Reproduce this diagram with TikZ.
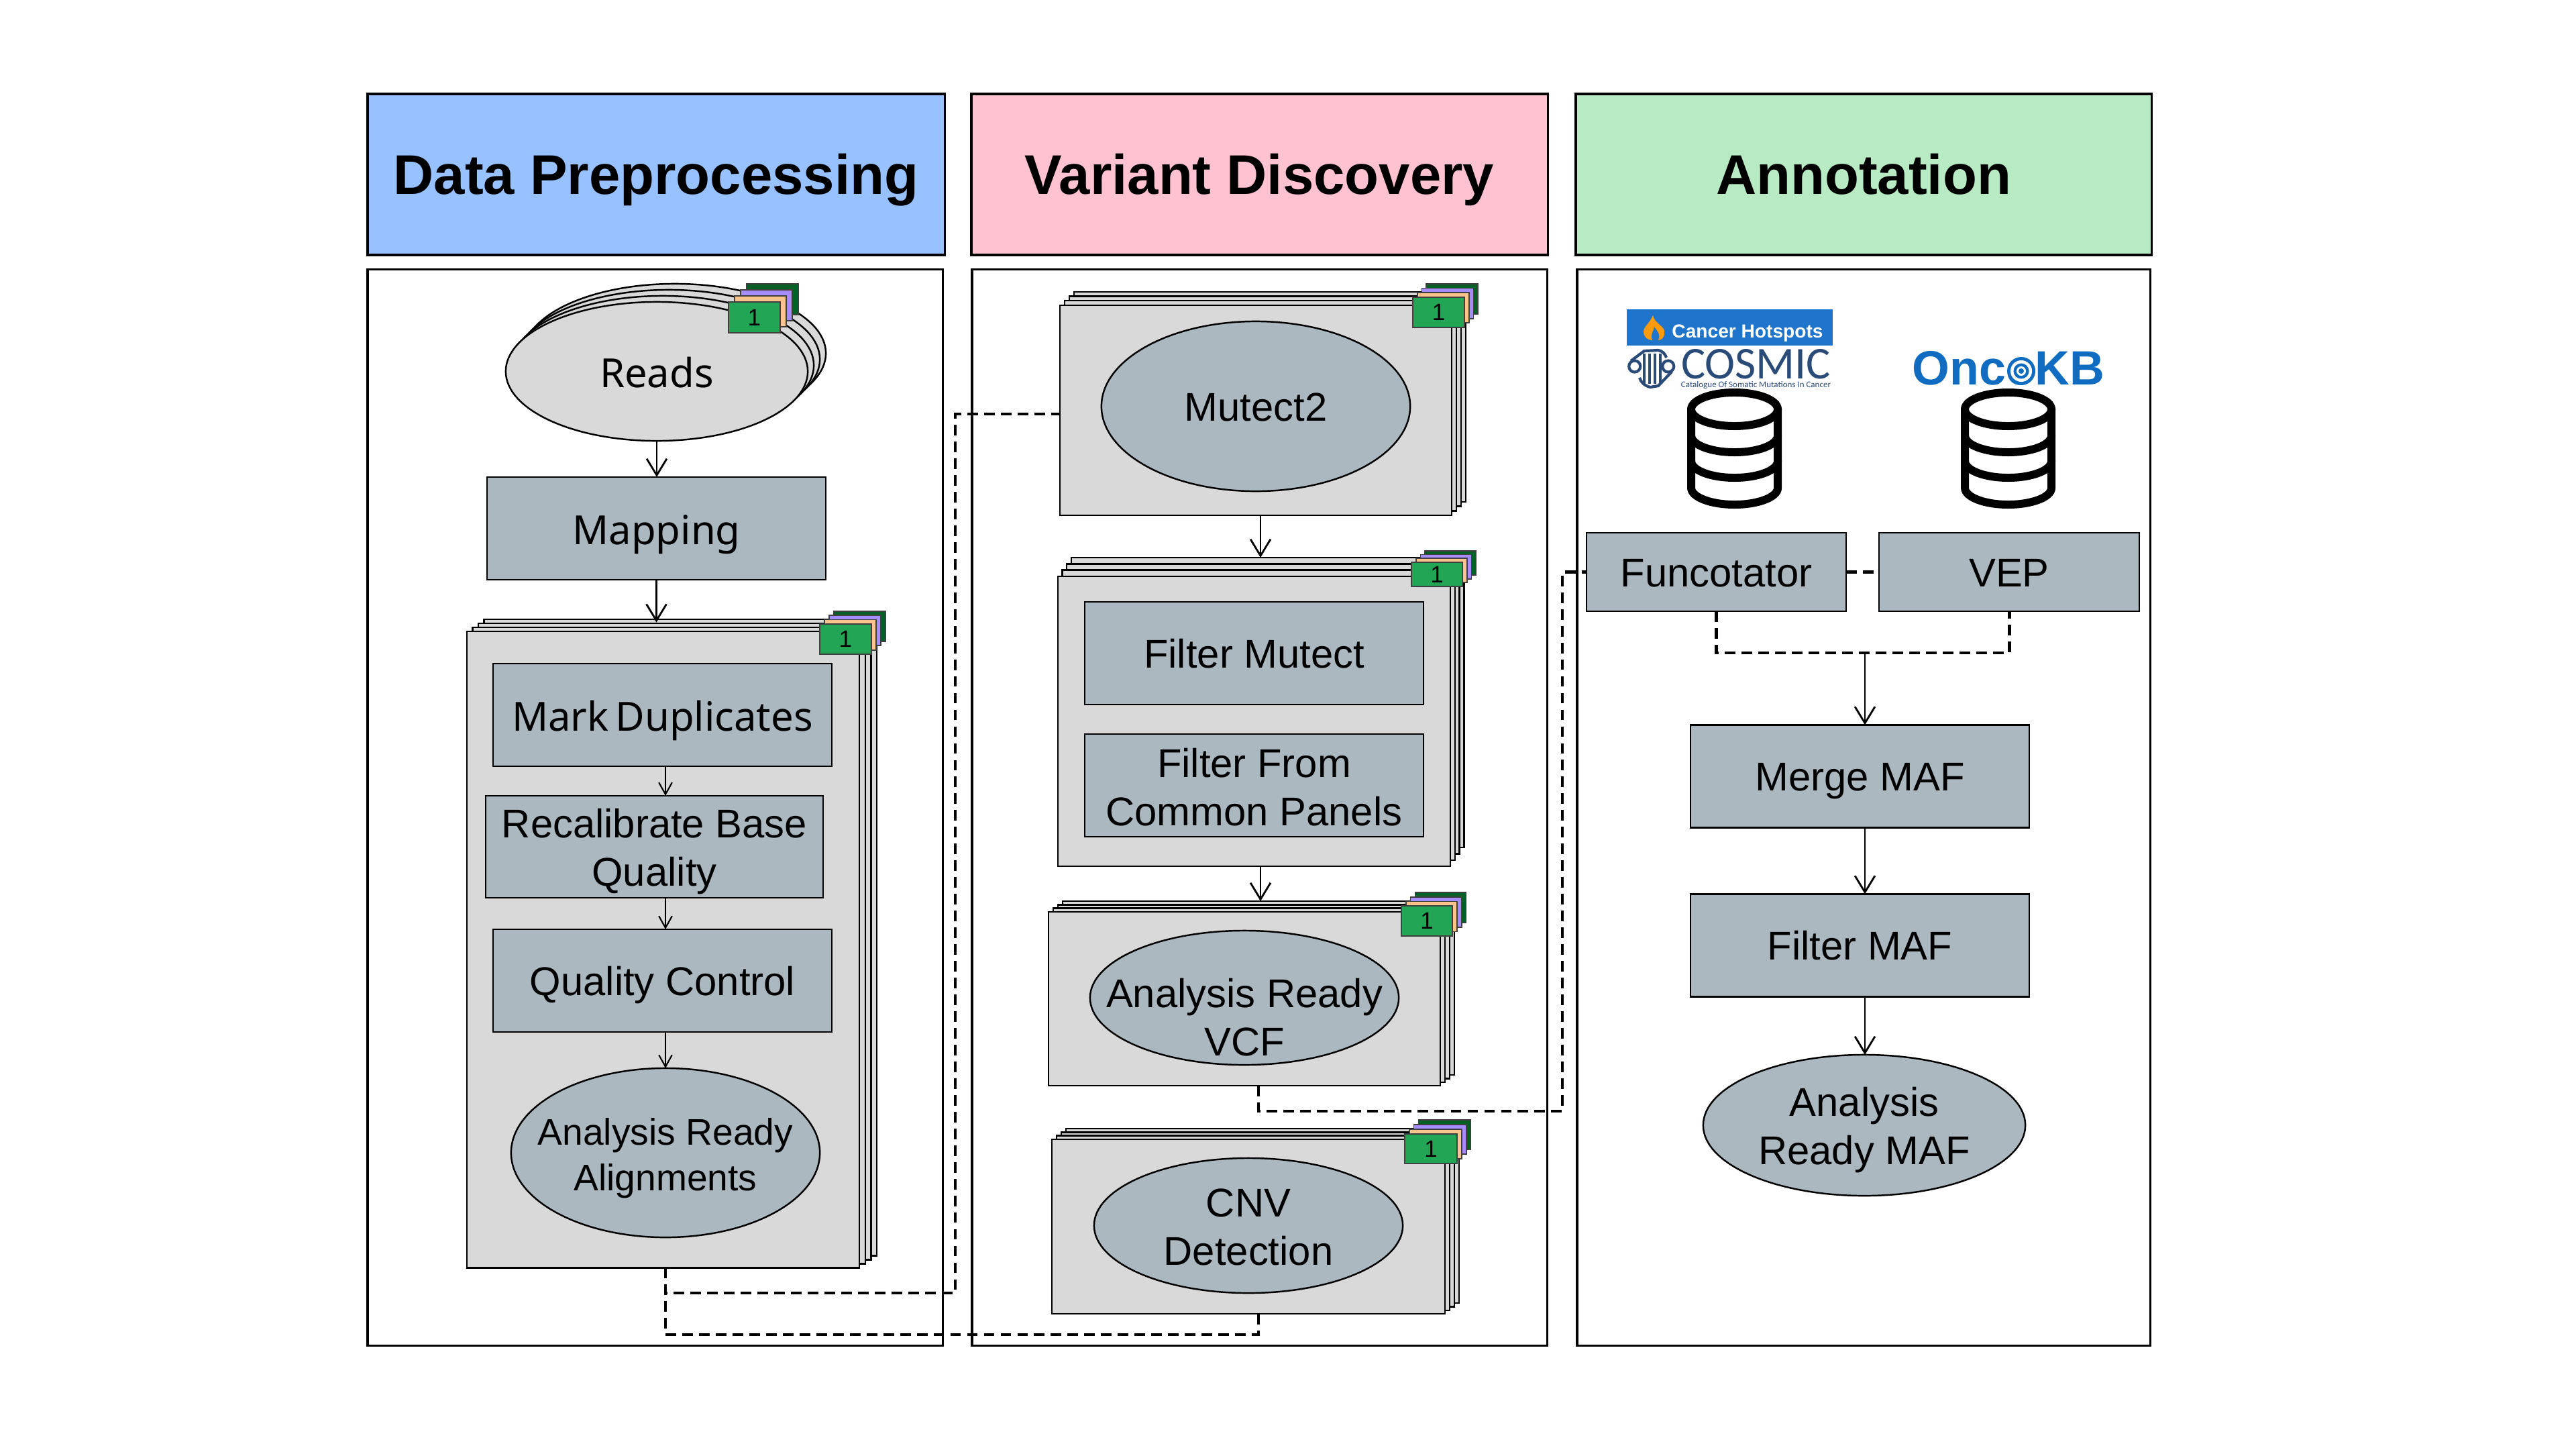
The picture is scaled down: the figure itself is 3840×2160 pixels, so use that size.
\documentclass[tikz,border=0pt]{standalone}
\usepackage{fontspec}
\setmainfont{Liberation Sans}
\newfontfamily\notofont{Noto Sans}
\newfontfamily\logofont{Carlito}
\usetikzlibrary{arrows.meta,shapes.geometric}

\definecolor{headblue}{HTML}{97C1FF}
\definecolor{headpink}{HTML}{FFC2D1}
\definecolor{headgreen}{HTML}{B8EBC4}
\definecolor{procgrey}{HTML}{ABB8C0}
\definecolor{stackgrey}{HTML}{D9D9D9}
\definecolor{badgegreen}{HTML}{22A655}
\definecolor{badgeorange}{HTML}{FFC48C}
\definecolor{badgepurple}{HTML}{A58CFF}
\definecolor{badgedark}{HTML}{006026}
\definecolor{hotblue}{HTML}{1F74CC}
\definecolor{flameorange}{HTML}{FF9A0A}
\definecolor{cosmicnavy}{HTML}{2A4A78}
\definecolor{oncoblue}{HTML}{0F6CC0}

\tikzset{
  headbox/.style={draw,line width=1pt,inner sep=0pt,outer sep=0pt,text height=18.5pt,text depth=2pt,
    font=\fontsize{23.7}{28}\selectfont\bfseries},
  panelbox/.style={draw,line width=1pt,inner sep=0pt,outer sep=0pt},
  procbox/.style={draw,line width=.7pt,fill=procgrey,inner sep=0pt,outer sep=0pt,
    font=\fontsize{17}{20.5}\selectfont},
  oneline/.style={text height=14.3pt,text depth=2pt},
  flowbox/.style={procbox,oneline,minimum width=5.05cm,minimum height=1.53cm},
  procoval/.style={procbox,ellipse},
  notolabel/.style={text height=15.4pt,text depth=2pt,font=\fontsize{17}{20}\selectfont\notofont},
  boxtext/.style={inner sep=0pt,align=center,font=\fontsize{17}{20.5}\selectfont},
  stackbox/.style={draw,line width=.7pt,fill=stackgrey,inner sep=0pt,outer sep=0pt},
  badgebox/.style={draw=black!75,line width=.5pt,inner sep=0pt,outer sep=0pt,font=\fontsize{10}{12}\selectfont},
  flowline/.style={line width=.8pt,-{Straight Barb[length=7pt,width=8.5pt]}},
  smallflow/.style={line width=.6pt,-{Straight Barb[length=5pt,width=5.6pt]}},
  dashline/.style={line width=1.4pt,dash pattern=on 4.5pt off 2.6pt},
  dbline/.style={line width=3.4pt,line cap=round},
}

% name, centre x, centre y, width, height, step x, step y
\newcommand{\framestack}[7]{
  \foreach \k in {3,2,1,0}
    \node (#1\k)[stackbox,minimum width=#4cm,minimum height=#5cm] at ({#2+\k*#6},{#3-\k*#7}) {};
}
% name, centre x, centre y, width, height, step x, step y
\newcommand{\badgestack}[7]{
  \foreach \k/\col in {3/badgedark,2/badgepurple,1/badgeorange}
    \node (#1\k)[badgebox,fill=\col,minimum width=#4cm,minimum height=#5cm] at ({#2+\k*#6},{#3-\k*#7}) {};
  \node (#10)[badgebox,fill=badgegreen,minimum width=#4cm,minimum height=#5cm] at (#2,#3) {1};
}

\begin{document}
\begin{tikzpicture}[x=.01cm,y=-.01cm]
  \useasboundingbox (0,0) rectangle (3840,2160);

  % headers
  \node (headdata)[headbox,fill=headblue,minimum width=8.6cm,minimum height=2.4cm] at (978,260) {Data Preprocessing};
  \node (headvar)[headbox,fill=headpink,minimum width=8.59cm,minimum height=2.4cm] at (1877.5,260) {Variant Discovery};
  \node (headann)[headbox,fill=headgreen,minimum width=8.58cm,minimum height=2.4cm] at (2778,260) {Annotation};

  % panels
  \node (paneldata)[panelbox,minimum width=8.57cm,minimum height=16.03cm] at (976.5,1203.5) {};
  \node (panelvar)[panelbox,minimum width=8.57cm,minimum height=16.03cm] at (1877.5,1203.5) {};
  \node (panelann)[panelbox,minimum width=8.54cm,minimum height=16.03cm] at (2778,1203.5) {};

  % data preprocessing
  \foreach \k in {3,2,1}
    \node (reads\k)[stackbox,ellipse,minimum width=4.5cm,minimum height=2.07cm] at ({979+\k*9},{553.5-\k*9}) {};
  \node (reads0)[stackbox,ellipse,notolabel,minimum width=4.5cm,minimum height=2.07cm] at (979,553.5) {Reads};
  \badgestack{readsbadge}{1124.5}{473}{.77}{.46}{9}{9}
  \node (mapping)[flowbox,notolabel] at (978.5,787.5) {Mapping};

  \framestack{dup}{988.5}{1415}{5.85}{9.48}{8.6}{6}
  \badgestack{dupbadge}{1260.5}{952.5}{.77}{.45}{7}{6.4}
  \node (markdup)[flowbox,notolabel] at (987.5,1065.5) {Mark\,Duplicates};
  \node (recal)[procbox,minimum width=5.03cm,minimum height=1.52cm] at (975.5,1262) {};
  \node (recaltext)[boxtext] at (975.5,1269) {Recalibrate Base\\Quality};
  \node (qualctl)[flowbox] at (987.5,1461.5) {Quality Control};
  \node (aralign)[procoval,minimum width=4.6cm,minimum height=2.52cm] at (992,1718) {};
  \node (araligntext)[boxtext,font=\fontsize{15.7}{19.5}\selectfont] at (992,1726) {Analysis Ready\\Alignments};

  % variant discovery
  \framestack{mut}{1872}{611.5}{5.84}{3.13}{7}{6.7}
  \badgestack{mutbadge}{2144.5}{465.5}{.77}{.45}{6.7}{6.7}
  \node (mutect)[procoval,oneline,minimum width=4.6cm,minimum height=2.53cm] at (1872,605.5) {Mutect2};

  \framestack{fil}{1869.5}{1075}{5.85}{4.32}{6.7}{9.3}
  \badgestack{filbadge}{2142}{856}{.76}{.36}{6.7}{5.7}
  \node (filtmut)[flowbox] at (1869.5,973.5) {Filter Mutect};
  \node (filtcom)[procbox,minimum width=5.05cm,minimum height=1.53cm] at (1869.5,1170.5) {};
  \node (filtcomtext)[boxtext] at (1869.5,1173) {Filter From\\Common Panels};

  \framestack{vcf}{1855}{1488.5}{5.84}{2.59}{7}{5.3}
  \badgestack{vcfbadge}{2127}{1372.5}{.76}{.45}{6.8}{6.6}
  \node (vcfoval)[procoval,minimum width=4.6cm,minimum height=2cm] at (1855,1487) {};
  \node (vcftext)[boxtext] at (1855,1516) {Analysis Ready\\VCF};

  \framestack{cnv}{1861}{1828}{5.86}{2.6}{7}{5.3}
  \badgestack{cnvbadge}{2133}{1712}{.78}{.44}{6.8}{7}
  \node (cnvoval)[procoval,minimum width=4.6cm,minimum height=2.01cm] at (1861,1826.5) {};
  \node (cnvtext)[boxtext] at (1861,1829) {CNV\\Detection};

  % annotation logos
  \node (hotspots)[fill=hotblue,inner sep=0pt,minimum width=3.07cm,minimum height=.54cm] at (2578.5,488) {};
  \node (hotlabel)[anchor=base,text=white,font=\fontsize{8}{10}\selectfont\bfseries,inner sep=0pt] at (2605,503) {Cancer Hotspots};
  \fill[flameorange] (2464,470) .. controls (2466,482) and (2482,486) .. (2481,495)
    .. controls (2482,503) and (2476,507) .. (2472,507) .. controls (2476,498) and (2470,492) .. (2466,487)
    .. controls (2465,494) and (2459,498) .. (2463,507) .. controls (2456,507) and (2450,502) .. (2450,495)
    .. controls (2450,486) and (2458,484) .. (2464,470) -- cycle;
  \node (cosmic)[anchor=base,text=cosmicnavy,font=\fontsize{19.3}{22}\selectfont\logofont,inner sep=0pt] at (2617.5,564) {COSMIC};
  \node (cosmictag)[anchor=base,text=cosmicnavy,font=\fontsize{3.7}{4}\selectfont\logofont,inner sep=0pt] at (2617.5,577) {Catalogue Of Somatic Mutations In Cancer};
  \begin{scope}[cosmicnavy,line width=1.2pt]
    \foreach \bx in {2451,2459,2467,2475}
      \draw (\bx,527) -- (\bx,572);
    \draw (2436.7,546) circle[radius=.085cm];
    \draw (2486.7,546) circle[radius=.085cm];
    \draw (2431,538) -- (2451,523) -- (2472,522) .. controls (2478,523) and (2482,527) .. (2484,533);
    \draw (2492,554) -- (2472,575) -- (2460,577) .. controls (2452,575) and (2446,570) .. (2444,563);
  \end{scope}
  \node (oncokb)[anchor=base,text=oncoblue,font=\fontsize{20.4}{24}\selectfont\bfseries,inner sep=0pt] at (2994,573) {OncoKB};
  \fill[oncoblue] (3013,553) circle[radius=.21cm];
  \fill[white] (3013,553) circle[radius=.16cm];
  \fill[oncoblue] (3013,553) circle[radius=.115cm];
  \fill[white] (3013,553) circle[radius=.07cm];
  \fill[oncoblue] (3013,553) circle[radius=.04cm];

  % database icons
  \foreach \cx in {2585.5,2993.5} {
    \draw[dbline] (\cx,610) ellipse[x radius=.645cm,y radius=.25cm];
    \draw[dbline] (\cx-64.5,610) -- (\cx-64.5,727) arc[start angle=180,end angle=360,x radius=.645cm,y radius=.25cm] -- (\cx+64.5,610);
    \draw[dbline] (\cx-64.5,649) arc[start angle=180,end angle=360,x radius=.645cm,y radius=.25cm];
    \draw[dbline] (\cx-64.5,687) arc[start angle=180,end angle=360,x radius=.645cm,y radius=.25cm];
  }

  \node (funco)[procbox,oneline,minimum width=3.87cm,minimum height=1.17cm] at (2558.5,852.5) {Funcotator};
  \node (vep)[procbox,oneline,minimum width=3.88cm,minimum height=1.17cm] at (2995,852.5) {VEP};
  \node (merge)[flowbox] at (2772.5,1157) {Merge MAF};
  \node (filtmaf)[flowbox] at (2772.5,1409) {Filter MAF};
  \node (finalmaf)[procoval,minimum width=4.8cm,minimum height=2.1cm] at (2779,1677) {};
  \node (finaltext)[boxtext] at (2779,1684) {Analysis\\Ready MAF};

  % free ends of the connectors
  \coordinate (mutin) at (1580,617);
  \coordinate (leftturn) at (1424,1927);
  \coordinate (lowturn) at (992,1989);
  \coordinate (vcfout) at (1876,1618);
  \coordinate (annturn) at (2329,1656);
  \coordinate (joinmaf) at (2780,973);

  % solid arrows
  \draw[flowline] (reads0.south) -- (reads0.south |- mapping.north);
  \draw[flowline,shorten >=-1.4pt] (mapping.south) -- (mapping.south |- dup3.north);
  \draw[flowline] (mut0.south -| 1879,0) -- (1879,0 |- fil3.north);
  \draw[flowline] (fil0.south -| 1879,0) -- (1879,0 |- vcf3.north);
  \draw[flowline] (joinmaf) -- (joinmaf |- merge.north);
  \draw[flowline] (merge.south -| joinmaf) -- (joinmaf |- filtmaf.north);
  \draw[flowline] (filtmaf.south -| joinmaf) -- (joinmaf |- finalmaf.north);
  \foreach \from/\to in {markdup/recal,recal/qualctl,qualctl/aralign}
    \draw[smallflow] (\from.south -| aralign) -- (aralign |- \to.north);

  % dashed links
  \draw[dashline] (aralign |- dup0.south) -- (aralign |- leftturn) -- (leftturn) |- (mutin);
  \draw[dashline] (aralign |- dup0.south) -- (lowturn) -| (vcfout |- cnv0.south);
  \draw[dashline] (vcfout) |- (annturn) |- (funco.west);
  \draw[dashline] (funco.east) -- (vep.west);
  \draw[dashline] (funco.south) |- (joinmaf) -| (vep.south);
\end{tikzpicture}
\end{document}
